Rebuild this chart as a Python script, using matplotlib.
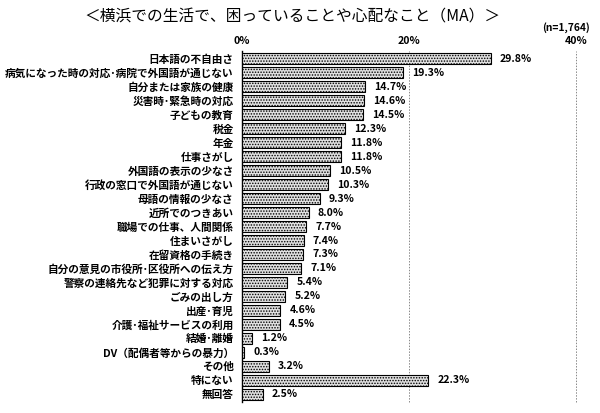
import matplotlib
matplotlib.use("Agg")
import matplotlib.pyplot as plt
import numpy as np

plt.rcParams['font.family'] = ['Noto Sans CJK JP', 'DejaVu Sans']
plt.rcParams['hatch.color'] = '#444444'
plt.rcParams['hatch.linewidth'] = 0.7

categories = [
    "日本語の不自由さ",
    "病気になった時の対応･病院で外国語が通じない",
    "自分または家族の健康",
    "災害時･緊急時の対応",
    "子どもの教育",
    "税金",
    "年金",
    "仕事さがし",
    "外国語の表示の少なさ",
    "行政の窓口で外国語が通じない",
    "母語の情報の少なさ",
    "近所でのつきあい",
    "職場での仕事、人間関係",
    "住まいさがし",
    "在留資格の手続き",
    "自分の意見の市役所･区役所への伝え方",
    "警察の連絡先など犯罪に対する対応",
    "ごみの出し方",
    "出産･育児",
    "介護･福祉サービスの利用",
    "結婚･離婚",
    "DV（配偶者等からの暴力）",
    "その他",
    "特にない",
    "無回答",
]
values = [29.8, 19.3, 14.7, 14.6, 14.5, 12.3, 11.8, 11.8, 10.5, 10.3, 9.3, 8.0,
          7.7, 7.4, 7.3, 7.1, 5.4, 5.2, 4.6, 4.5, 1.2, 0.3, 3.2, 22.3, 2.5]
xticks = [0, 20, 40]
xticklabels = ["0%", "20%", "40%"]
title = "＜横浜での生活で、困っていることや心配なこと（MA）＞"
note = "(n=1,764)"

fig = plt.figure(figsize=(6, 4.13), dpi=100)
ax = fig.add_axes([0.4033, 0.027, 0.5567, 0.849])

y = np.arange(len(categories))
ax.barh(y, values, height=0.78, color='#e0e0e0', edgecolor='black',
        linewidth=0.8, hatch='......', zorder=3)

ax.set_xlim(0, 40)
ax.set_ylim(len(categories) - 0.45, -0.55)
ax.set_yticks(y)
ax.set_yticklabels(categories, fontsize=7.7, fontweight='bold')
ax.tick_params(axis='y', length=0, pad=6)
ax.xaxis.tick_top()
ax.set_xticks(xticks)
ax.set_xticklabels(xticklabels, fontsize=7.6, fontweight='bold')
ax.tick_params(axis='x', length=0, pad=4)

for s in ['top', 'right', 'bottom']:
    ax.spines[s].set_visible(False)
ax.spines['left'].set_linewidth(1.0)
for xv in xticks[1:]:
    ax.axvline(xv, color='#888888', linestyle=(0, (1.5, 1.5)), linewidth=0.7,
               zorder=1, clip_on=False)

for yi, v in zip(y, values):
    ax.text(v + 1.1, yi, f"{v}%", va='center', ha='left', fontsize=7.6,
            fontweight='bold')

fig.text(0.487, 0.958, title, ha='center', va='center', fontsize=11.3)
fig.text(0.983, 0.933, note, ha='right', va='center', fontsize=7.4, fontweight='bold')

fig.savefig("out.png", dpi=100)
